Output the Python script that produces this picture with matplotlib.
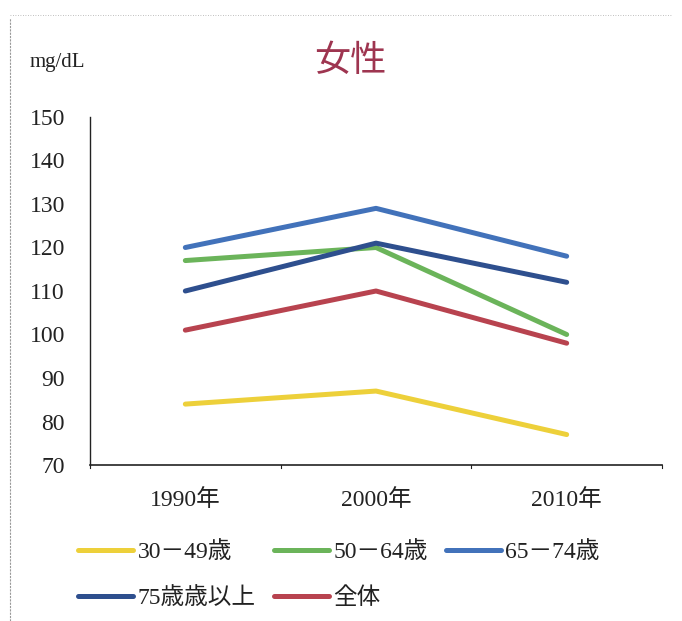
import matplotlib
matplotlib.use("Agg")
import matplotlib.pyplot as plt
from matplotlib.lines import Line2D

plt.rcParams['font.family'] = ['Liberation Serif', 'Noto Sans CJK JP']

categories = ["1990年", "2000年", "2010年"]
series_names = ["30－49歳", "50－64歳", "65－74歳", "75歳歳以上", "全体"]
v_30_49 = [84, 87, 77]
v_50_64 = [117, 120, 100]
v_65_74 = [120, 129, 118]
v_75_up = [110, 121, 112]
v_all = [101, 110, 98]
colors = ["#EDD03A", "#6BB45A", "#4272BA", "#2E4F8E", "#B8434F"]
yticks = [70, 80, 90, 100, 110, 120, 130, 140, 150]

fig = plt.figure(figsize=(6.82, 6.21), dpi=100)
ax = fig.add_axes([90/682, 1-465/621, 572/682, 348/621])

x = list(range(len(categories)))
all_vals = [v_30_49, v_50_64, v_65_74, v_75_up, v_all]
handles = []
for name, vals, c in zip(series_names, all_vals, colors):
    h, = ax.plot(x, vals, color=c, lw=3.6, solid_capstyle='round', solid_joinstyle='round', label=name)
    handles.append(h)

ax.set_xlim(-0.5, 2.5)
ax.set_ylim(70, 150)
ax.set_yticks(yticks)
ax.set_yticklabels([str(t) for t in yticks], fontsize=17, color="#222222")
ax.set_xticks(x)
ax.set_xticklabels(categories, fontsize=17, color="#222222")
ax.tick_params(axis='x', length=0, pad=17)
ax.tick_params(axis='y', length=0, pad=18)
for b in [-0.5, 0.5, 1.5, 2.5]:
    ax.plot([b, b], [70, 69.2], color="#222222", lw=0.8, clip_on=False)
for s in ['top', 'right']:
    ax.spines[s].set_visible(False)
ax.spines['left'].set_color("#222222")
ax.spines['bottom'].set_color("#222222")
ax.spines['left'].set_linewidth(1.0)
ax.spines['bottom'].set_linewidth(1.2)

fig.text(350/682, 1-62/621, "女性", fontsize=26, color="#9E3550", ha='center', va='center')
fig.text(57/682, 1-63/621, "mg/dL", fontsize=15, color="#222222", ha='center', va='center')

order = [0, 3, 1, 4, 2]
leg = fig.legend([handles[i] for i in order], [series_names[i] for i in order],
                 ncol=3, loc='center left', bbox_to_anchor=(57/682, 1-575/621),
                 frameon=False, fontsize=17, handlelength=2.33, handletextpad=0.2,
                 columnspacing=0.75, labelspacing=1.03)
for t in leg.get_texts():
    t.set_color("#222222")

# scan border
fig.add_artist(Line2D([10/682, 10/682], [0, 1-18/621], color="#999999", lw=0.8, ls=(0, (2, 1))))
fig.add_artist(Line2D([10/682, 672/682], [1-15/621, 1-15/621], color="#aaaaaa", lw=0.6, ls=(0, (1, 2))))

fig.savefig("out.png", dpi=100)
